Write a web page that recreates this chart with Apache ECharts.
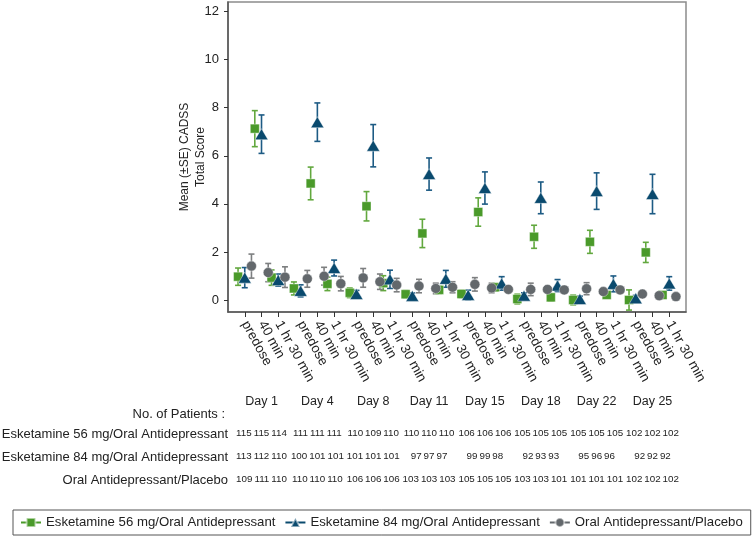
<!DOCTYPE html>
<html><head><meta charset="utf-8">
<script src="https://cdn.jsdelivr.net/npm/echarts@6/dist/echarts.min.js"></script>
<style>html,body{margin:0;padding:0;background:#fff}#c{width:752px;height:539px}</style>
</head><body><div id="c"></div>
<script>
const days = ['Day 1','Day 4','Day 8','Day 11','Day 15','Day 18','Day 22','Day 25'];
const timepoints = ['predose','40 min','1 hr 30 min'];
const seriesNames = ['Esketamine 56 mg/Oral Antidepressant','Esketamine 84 mg/Oral Antidepressant','Oral Antidepressant/Placebo'];
// mean values, per day: predose, 40 min, 1 hr 30 min
const mean56 = [0.97,7.13,0.93, 0.48,4.85,0.67, 0.30,3.90,0.70, 0.24,2.77,0.42, 0.25,3.66,0.53, 0.04,2.63,0.11, 0.00,2.42,0.21, 0.00,1.98,0.21];
const se56   = [0.36,0.75,0.32, 0.27,0.68,0.28, 0.20,0.61,0.31, 0.15,0.59,0.15, 0.15,0.59,0.15, 0.20,0.48,0.15, 0.20,0.48,0.12, 0.42,0.42,0.12];
const mean84 = [0.93,6.90,0.83, 0.38,7.40,1.33, 0.25,6.42,0.86, 0.17,5.24,0.88, 0.21,4.66,0.69, 0.18,4.25,0.60, 0.04,4.53,0.67, 0.07,4.41,0.69];
const se84   = [0.42,0.80,0.25, 0.25,0.80,0.33, 0.15,0.88,0.38, 0.12,0.67,0.35, 0.20,0.67,0.28, 0.12,0.66,0.25, 0.12,0.76,0.33, 0.12,0.82,0.28];
const meanPbo = [1.41,1.14,0.95, 0.88,0.99,0.68, 0.92,0.76,0.62, 0.58,0.48,0.53, 0.65,0.50,0.44, 0.44,0.44,0.42, 0.47,0.35,0.42, 0.25,0.18,0.14];
const sePbo   = [0.50,0.38,0.43, 0.35,0.37,0.30, 0.39,0.32,0.28, 0.28,0.22,0.23, 0.28,0.20,0.12, 0.26,0.12,0.12, 0.25,0.12,0.12, 0.10,0.10,0.10];
const n56  = [[115,115,114],[111,111,111],[110,109,110],[110,110,110],[106,106,106],[105,105,105],[105,105,105],[102,102,102]];
const n84  = [[113,112,110],[100,101,101],[101,101,101],[97,97,97],[99,99,98],[92,93,93],[95,96,96],[92,92,92]];
const nPbo = [[109,111,110],[110,110,110],[106,106,106],[103,103,103],[105,105,105],[103,103,101],[101,101,101],[102,102,102]];
const yTicks = [0,2,4,6,8,10,12];

// layout helpers
const DAY_SPAN = 10, SLOT = 3, DODGE = 1.2;
const pos = (d,t) => d*DAY_SPAN + t*SLOT;
const tickVals = [], tickText = {};
days.forEach((d,di)=>timepoints.forEach((t,ti)=>{const v=pos(di,ti); tickVals.push(v); tickText[v]=t;}));
const dayVals = days.map((d,di)=>pos(di,1));
const dayIdx = v => Math.round((v - SLOT)/DAY_SPAN);

const colors = ['#4a9a2a','#0a4a6e','#63686c'];
const errColors = ['#62a83e','#1d5b84','#7d7f80'];
const symbols = ['rect','triangle','circle'];
const sizes = [9,[13,11],10];
const means = [mean56, mean84, meanPbo];
const ses = [se56, se84, sePbo];
const offsets = [-DODGE, 0, DODGE];
const FONT = 'Liberation Sans, Arial, sans-serif';

const series = [];
means.forEach((m,si)=>{
  const errs = m.map((v,i)=>[pos(Math.floor(i/3), i%3) + offsets[si], v - ses[si][i], v + ses[si][i]]);
  series.push({
    name: 'err'+si, type:'custom', xAxisIndex:0, yAxisIndex:0, z:2,
    data: errs, encode:{x:0, y:[1,2]},
    renderItem(params, api){
      const x = api.value(0), lo = api.value(1), hi = api.value(2);
      const a = api.coord([x, lo]), b = api.coord([x, hi]);
      const cap = 3, st = {stroke: errColors[si], lineWidth: 1.6};
      return {type:'group', children:[
        {type:'line', shape:{x1:a[0],y1:a[1],x2:b[0],y2:b[1]}, style:st},
        {type:'line', shape:{x1:a[0]-cap,y1:a[1],x2:a[0]+cap,y2:a[1]}, style:st},
        {type:'line', shape:{x1:b[0]-cap,y1:b[1],x2:b[0]+cap,y2:b[1]}, style:st}
      ]};
    }
  });
});
means.forEach((m,si)=>{
  series.push({
    name: seriesNames[si], type:'line', xAxisIndex:0, yAxisIndex:0, z:3+si,
    data: m.map((v,i)=>[pos(Math.floor(i/3), i%3) + offsets[si], v]),
    symbol: symbols[si], symbolSize: sizes[si], showSymbol:true,
    itemStyle:{color: colors[si], borderColor:'rgba(255,255,255,0.5)', borderWidth:0.8},
    lineStyle:{color: colors[si], opacity:0, width:2},
    animation:false
  });
});

const rowAxis = (rows, offset) => ({
  type:'value', min:-3, max:79, position:'bottom', offset: offset, gridIndex:0,
  axisLine:{show:false, onZero:false}, axisTick:{show:false}, splitLine:{show:false},
  axisLabel:{customValues: dayVals, margin:0, fontSize:9.8, color:'#222', fontFamily:FONT,
    showMinLabel:true, showMaxLabel:true, hideOverlap:false,
    formatter: v => rows[dayIdx(v)].join('\u2009')}
});

const option = {
  animation:false,
  grid:{left:228, right:66, top:2, bottom:227, show:true, borderColor:'#8c8c8c', borderWidth:1.5},
  xAxis:[
    {type:'value', min:-3, max:79, position:'bottom',
     axisLine:{onZero:false, lineStyle:{color:'#555', width:1.5}},
     axisTick:{customValues: tickVals, length:5, lineStyle:{color:'#333'}},
     splitLine:{show:false},
     axisLabel:{customValues: tickVals, rotate:-61, margin:10, fontSize:13.5, color:'#222', fontFamily:FONT,
       showMinLabel:true, showMaxLabel:true, hideOverlap:false,
       formatter: v => tickText[Math.round(v)] || ''}},
    {type:'value', min:-3, max:79, position:'bottom', offset:77,
     axisLine:{show:false, onZero:false}, axisTick:{show:false}, splitLine:{show:false},
     axisLabel:{customValues: dayVals, margin:6, fontSize:12.5, color:'#222', fontFamily:FONT,
       showMinLabel:true, showMaxLabel:true, hideOverlap:false,
       formatter: v => days[dayIdx(v)]}},
    rowAxis(n56, 116.5), rowAxis(n84, 139.5), rowAxis(nPbo, 162.5)
  ],
  yAxis:{type:'value', min:-0.5, max:12.4,
    name:'Mean (±SE) CADSS\nTotal Score', nameLocation:'middle', nameGap:19, nameMoveOverlap:false,
    nameTextStyle:{fontSize:12, color:'#222', lineHeight:16, fontFamily:FONT},
    axisLine:{show:true, onZero:false, lineStyle:{color:'#555', width:1.5}},
    axisTick:{show:true, customValues:yTicks, length:4, lineStyle:{color:'#333'}},
    splitLine:{show:false},
    axisLabel:{customValues:yTicks, fontSize:13, color:'#222', margin:9, fontFamily:FONT,
      showMinLabel:true, showMaxLabel:true}},
  legend:{data:seriesNames, left:13, top:510, padding:[6,8,6,7], itemGap:9, itemWidth:20, itemHeight:11,
    borderColor:'#555', borderWidth:1, textStyle:{fontSize:13.2, color:'#222', fontFamily:FONT},
    lineStyle:{opacity:1, width:2}},
  graphic:[
    {type:'text', right:752-225, top:408, style:{text:'No. of Patients :', font:'13px '+FONT, fill:'#222'}},
    {type:'text', right:752-228, top:428, style:{text:seriesNames[0], font:'13px '+FONT, fill:'#222'}},
    {type:'text', right:752-228, top:451, style:{text:seriesNames[1], font:'13px '+FONT, fill:'#222'}},
    {type:'text', right:752-228, top:474, style:{text:seriesNames[2], font:'13px '+FONT, fill:'#222'}}
  ],
  series: series
};
const chart = echarts.init(document.getElementById('c'), null, {renderer:'canvas'});
chart.setOption(option);
</script></body></html>
